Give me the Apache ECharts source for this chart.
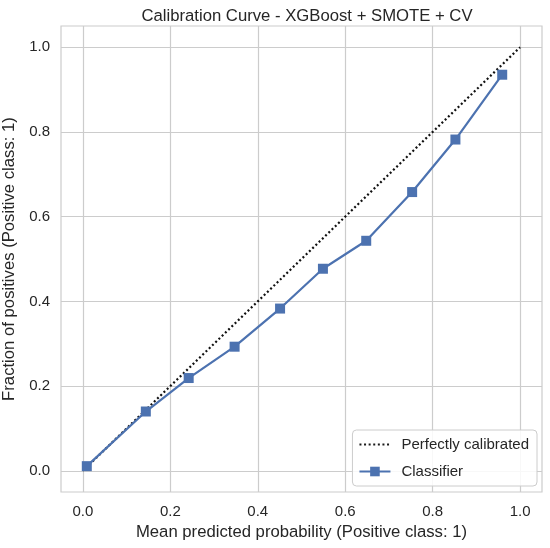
<!DOCTYPE html>
<html>
<head>
<meta charset="utf-8">
<script src="https://cdn.jsdelivr.net/npm/echarts@6/dist/echarts.min.js"></script>
<style>
  html, body { margin: 0; padding: 0; background: #ffffff; }
  #chart { width: 550px; height: 548px; }
</style>
</head>
<body>
<div id="chart"></div>
<script>
// Data
const meanPredicted = [0.009, 0.144, 0.242, 0.347, 0.451, 0.549, 0.648, 0.753, 0.852, 0.959];
const fractionPositives = [0.011, 0.140, 0.219, 0.293, 0.383, 0.477, 0.543, 0.658, 0.782, 0.935];
const perfectX = [0, 1];
const perfectY = [0, 1];
const tickValues = [0.0, 0.2, 0.4, 0.6, 0.8, 1.0];

const textColor = '#262626';
const gridColor = '#cccccc';
const fontFamily = '"Liberation Sans", Arial, sans-serif';

const classifierData = meanPredicted.map((x, i) => [x, fractionPositives[i]]);
const perfectData = perfectX.map((x, i) => [x, perfectY[i]]);

const chart = echarts.init(document.getElementById('chart'), null, { renderer: 'canvas' });

function makeAxis(name, isX) {
  return {
    type: 'value',
    min: -0.05,
    max: 1.05,
    name: name,
    nameLocation: 'middle',
    nameGap: isX ? 32 : 38,
    nameTextStyle: { color: textColor, fontSize: 16.7, fontFamily: fontFamily },
    axisLine: { show: false },
    axisTick: { show: false, customValues: tickValues },
    axisLabel: {
      customValues: tickValues,
      formatter: v => Number(v).toFixed(1),
      color: textColor,
      fontSize: 15,
      fontFamily: fontFamily,
      margin: isX ? 12 : 11
    },
    splitLine: { show: true, lineStyle: { color: gridColor, width: 1.2 } }
  };
}

chart.setOption({
  backgroundColor: '#ffffff',
  animation: false,
  title: {
    text: 'Calibration Curve - XGBoost + SMOTE + CV',
    left: 302,
    textAlign: 'center',
    top: 3,
    textStyle: { color: textColor, fontSize: 16.7, fontWeight: 'normal', fontFamily: fontFamily }
  },
  grid: {
    left: 61, right: 8, top: 26, bottom: 56,
    outerBoundsMode: 'none',
    containLabel: false,
    show: true,
    borderColor: gridColor,
    borderWidth: 1.2,
    backgroundColor: 'transparent'
  },
  xAxis: makeAxis('Mean predicted probability (Positive class: 1)', true),
  yAxis: makeAxis('Fraction of positives (Positive class: 1)', false),
  legend: {
    orient: 'vertical',
    right: 13,
    bottom: 62,
    itemWidth: 31,
    itemHeight: 12,
    itemGap: 12,
    padding: [7, 8, 7, 6],
    backgroundColor: 'rgba(255,255,255,0.85)',
    borderColor: gridColor,
    borderWidth: 1,
    borderRadius: 4,
    textStyle: { color: textColor, fontSize: 15, fontFamily: fontFamily, padding: [0, 0, 0, 6] },
    data: [
      {
        name: 'Perfectly calibrated',
        itemStyle: { color: 'rgba(0,0,0,0)', borderWidth: 0, borderColor: 'rgba(0,0,0,0)' },
        lineStyle: { color: '#1a1a1a', width: 2, type: [2, 2.6] }
      },
      { name: 'Classifier' }
    ]
  },
  series: [
    {
      name: 'Perfectly calibrated',
      type: 'line',
      data: perfectData,
      symbol: 'none',
      lineStyle: { color: '#111111', width: 2.2, type: [2, 2.5] },
      itemStyle: { color: '#111111' },
      z: 2
    },
    {
      name: 'Classifier',
      type: 'line',
      data: classifierData,
      symbol: 'rect',
      symbolSize: 10,
      lineStyle: { color: '#4c72b0', width: 2.2 },
      itemStyle: { color: '#4c72b0' },
      z: 3
    }
  ]
});
</script>
</body>
</html>
